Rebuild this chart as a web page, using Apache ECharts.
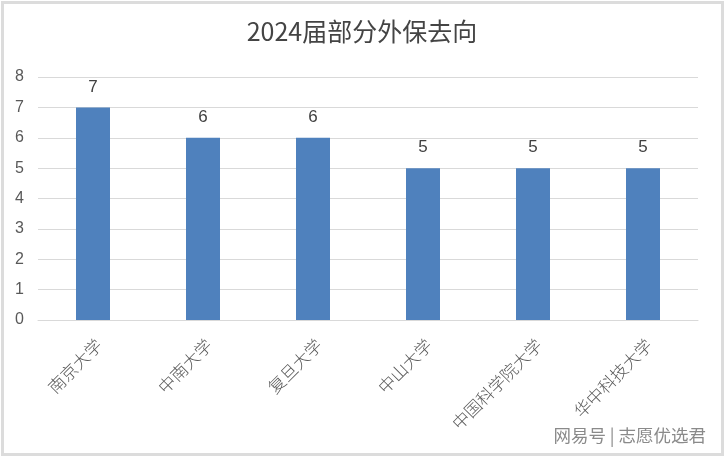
<!DOCTYPE html>
<html><head><meta charset="utf-8">
<script src="https://cdn.jsdelivr.net/npm/echarts@6/dist/echarts.min.js"></script>
<style>html,body{margin:0;padding:0;background:#fff}#c{width:724px;height:456px}</style>
</head><body><div id="c"></div>
<script>
const titleText = '2024届部分外保去向';
const categories = ['南京大学','中南大学','复旦大学','中山大学','中国科学院大学','华中科技大学'];
const values = [7,6,6,5,5,5];
const yTicks = [0,1,2,3,4,5,6,7,8];
const watermark = '网易号 | 志愿优选君';

const chart = echarts.init(document.getElementById('c'));
chart.setOption({
  animation: false,
  backgroundColor: '#fff',
  title: {
    text: titleText, left: 'center', top: 14,
    textStyle: {fontSize: 25, fontWeight: 'normal', color: '#444', fontFamily: 'Noto Sans CJK SC'}
  },
  grid: {left: 38, right: 26, top: 77, bottom: 136, containLabel: false},
  xAxis: {
    type: 'category', data: categories,
    axisLine: {show: true, lineStyle: {color: '#d9d9d9', width: 1}},
    axisTick: {show: false},
    axisLabel: {rotate: 45, margin: 16, verticalAlign: 'top', fontSize: 17, color: '#595959', fontFamily: 'Noto Sans CJK SC', fontWeight: 300, interval: 0}
  },
  yAxis: {
    type: 'value', min: yTicks[0], max: yTicks[yTicks.length-1], interval: 1,
    axisLine: {show: false}, axisTick: {show: false},
    splitLine: {lineStyle: {color: '#d9d9d9', width: 1}},
    axisLabel: {fontSize: 16, color: '#595959', margin: 14, fontFamily: 'Liberation Sans'}
  },
  series: [{
    type: 'bar', data: values, barWidth: 34,
    itemStyle: {color: '#4f81bd'},
    label: {show: true, position: 'top', distance: 12, fontSize: 17, color: '#404040', fontFamily: 'Liberation Sans'}
  }],
  graphic: [
    {type: 'rect', left: 0, top: 0, shape: {x: 1.5, y: 1.5, width: 720, height: 452}, style: {fill: 'none', stroke: '#dcdcdc', lineWidth: 3}},
    {type: 'text', right: 18, top: 427, style: {text: watermark, fontSize: 17.5, fill: '#8a8a8a', fontFamily: 'Noto Sans CJK SC'}}
  ]
});
</script></body></html>
